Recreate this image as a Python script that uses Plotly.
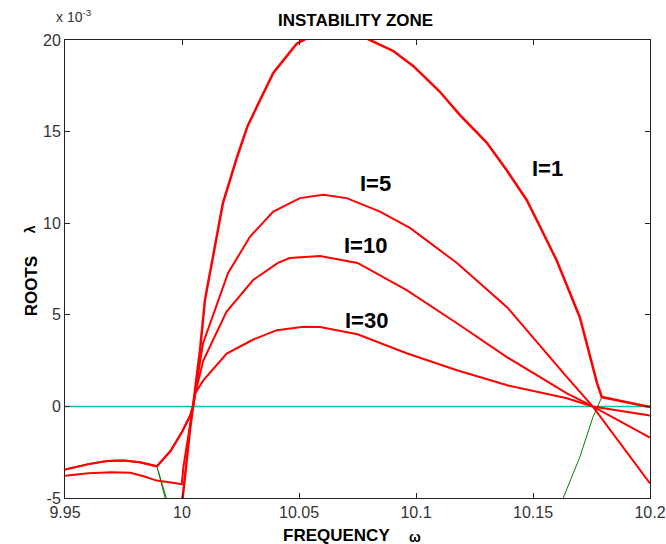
import plotly.graph_objects as go

# ---- data (lambda in units of 1e-3) ----
i1_x = [9.9990, 10.0013, 10.0034, 10.0047, 10.0077, 10.0098, 10.0135, 10.0175, 10.0235, 10.0280,
        10.0390, 10.0490, 10.0535, 10.0600, 10.0670, 10.0740, 10.0803, 10.0903, 10.0989, 10.1100,
        10.1188, 10.1302, 10.1387, 10.1473, 10.1537, 10.1600, 10.1700, 10.1774, 10.1794, 10.2000]
i1_y = [-6.5, -3.7, -1.3, 0.0, 3.07, 5.8, 8.3, 11.1, 13.6, 15.3,
        18.2, 19.8, 20.1, 20.45, 20.55, 20.4, 20.0, 19.4, 18.57, 17.2,
        15.9, 14.4, 12.9, 11.27, 9.63, 8.0, 4.87, 1.26, 0.51, -0.03]

i5_x = [9.9500, 9.9600, 9.9700, 9.9780, 9.9840, 9.9892, 9.9975, 9.9999, 10.0006, 10.0030, 10.0047,
        10.0065, 10.0090, 10.0197, 10.0255, 10.0291, 10.0390, 10.0504, 10.0604, 10.0704, 10.0846,
        10.0974, 10.1175, 10.1390, 10.1645, 10.1755, 10.2000]
i5_y = [-3.78, -3.65, -3.6, -3.62, -3.83, -4.05, -4.2, -4.25, -3.3, -1.4, 0.0,
        1.6, 3.45, 7.28, 8.54, 9.27, 10.63, 11.37, 11.55, 11.37, 10.63,
        9.74, 7.83, 5.4, 1.6, 0.0, -4.2]

i10_x = [9.9500, 9.9600, 9.9680, 9.9750, 9.9820, 9.9892, 9.9950, 10.0000, 10.0035, 10.0047,
         10.0060, 10.0091, 10.0190, 10.0304, 10.0410, 10.0460, 10.0590, 10.0750, 10.0960, 10.1175,
         10.1390, 10.1645, 10.1755, 10.2000]
i10_y = [-3.45, -3.15, -2.98, -2.95, -3.05, -3.27, -2.45, -1.4, -0.5, 0.0,
         0.9, 2.5, 5.16, 6.9, 7.83, 8.1, 8.21, 7.83, 6.35, 4.54,
         2.68, 0.71, 0.0, -1.7]

i30_x = [9.9500, 9.9600, 9.9680, 9.9750, 9.9820, 9.9892, 9.9950, 10.0000, 10.0035, 10.0047,
         10.0056, 10.0091, 10.0191, 10.0305, 10.0405, 10.0460, 10.0520, 10.0590, 10.0750, 10.0960,
         10.1175, 10.1390, 10.1645, 10.1755, 10.2000]
i30_y = [-3.45, -3.15, -2.98, -2.95, -3.05, -3.27, -2.45, -1.4, -0.5, 0.0,
         0.7, 1.42, 2.88, 3.65, 4.16, 4.27, 4.35, 4.33, 3.94, 2.9,
         1.97, 1.15, 0.44, 0.0, -0.5]

g1_x = [9.9894, 9.9927, 9.9940]
g1_y = [-3.32, -5.04, -5.6]
g2_x = [9.9898, 9.9934, 9.9947]
g2_y = [-3.5, -5.04, -5.6]
g3_x = [10.1794, 10.1756, 10.1700, 10.1658, 10.1628, 10.1610]
g3_y = [0.51, -0.59, -2.77, -4.05, -5.04, -5.6]

zero_x = [9.95, 10.2]
zero_y = [0.0, 0.0]

label_text = ["I=1", "I=5", "I=10", "I=30"]
label_x = [10.1562, 10.0825, 10.0783, 10.0789]
label_y = [12.97, 12.18, 8.76, 4.71]

x_ticks = [9.95, 10.0, 10.05, 10.1, 10.15, 10.2]
x_ticktext = ["9.95", "10", "10.05", "10.1", "10.15", "10.2"]
y_ticks = [-5, 0, 5, 10, 15, 20]
y_ticktext = ["-5", "0", "5", "10", "15", "20"]

RED = "#ff0000"
GREEN = "#008000"
CYAN = "#00c0c0"
FONT = "Liberation Sans, Arial, sans-serif"

fig = go.Figure()
fig.add_trace(go.Scatter(x=zero_x, y=zero_y, mode="lines", line=dict(color=CYAN, width=1.5)))
for gx, gy in [(g1_x, g1_y), (g2_x, g2_y), (g3_x, g3_y)]:
    fig.add_trace(go.Scatter(x=gx, y=gy, mode="lines", line=dict(color=GREEN, width=1)))
fig.add_trace(go.Scatter(x=i30_x, y=i30_y, mode="lines", line=dict(color=RED, width=2)))
fig.add_trace(go.Scatter(x=i10_x, y=i10_y, mode="lines", line=dict(color=RED, width=2)))
fig.add_trace(go.Scatter(x=i5_x, y=i5_y, mode="lines", line=dict(color=RED, width=2)))
fig.add_trace(go.Scatter(x=i1_x, y=i1_y, mode="lines", line=dict(color=RED, width=2.5)))

for t, lx, ly in zip(label_text, label_x, label_y):
    fig.add_annotation(x=lx, y=ly, text="<b>%s</b>" % t, showarrow=False,
                       font=dict(family=FONT, size=22, color="black"))

axis_common = dict(showgrid=False, zeroline=False, showline=True, mirror="ticks",
                   linecolor="#222222", linewidth=1, ticks="inside", ticklen=5,
                   tickcolor="#222222", automargin=False,
                   tickfont=dict(family=FONT, size=16, color="#333333"))

fig.update_xaxes(range=[9.95, 10.2], tickvals=x_ticks, ticktext=x_ticktext, **axis_common)
fig.update_yaxes(range=[-5, 20], tickvals=y_ticks, ticktext=y_ticktext, **axis_common)

fig.add_annotation(xref="paper", yref="paper", x=0.496, y=1, yshift=20, yanchor="middle",
                   text="<b>INSTABILITY ZONE</b>", showarrow=False,
                   font=dict(family=FONT, size=17, color="black"))
fig.add_annotation(xref="paper", yref="paper", x=0, xshift=-11, y=1, yshift=24,
                   xanchor="left", yanchor="middle",
                   text="x 10<sup>-3</sup>", showarrow=False,
                   font=dict(family=FONT, size=14, color="#333333"))
fig.add_annotation(xref="paper", yref="paper", x=0.464, y=0, yshift=-37, yanchor="middle",
                   text="<b>FREQUENCY</b>", showarrow=False,
                   font=dict(family=FONT, size=17, color="black"))
fig.add_annotation(xref="paper", yref="paper", x=0.598, y=0, yshift=-39, yanchor="middle",
                   text="<b>ω</b>", showarrow=False,
                   font=dict(family=FONT, size=14, color="black"))
fig.add_annotation(xref="paper", yref="paper", x=0, xshift=-45, y=0.461, yanchor="middle",
                   text="<b>ROOTS</b>", textangle=-90, showarrow=False,
                   font=dict(family=FONT, size=17, color="black"))
fig.add_annotation(xref="paper", yref="paper", x=0, xshift=-45, y=0.587, yanchor="middle",
                   text="<b>λ</b>", textangle=-90, showarrow=False,
                   font=dict(family=FONT, size=14, color="black"))

fig.update_layout(width=666, height=544, showlegend=False, autosize=False,
                  paper_bgcolor="white", plot_bgcolor="white",
                  margin=dict(l=65, r=16, t=40, b=46, autoexpand=False))

fig.write_html("out.html", config={"displayModeBar": False},
               post_script="document.body.style.margin='0';")
